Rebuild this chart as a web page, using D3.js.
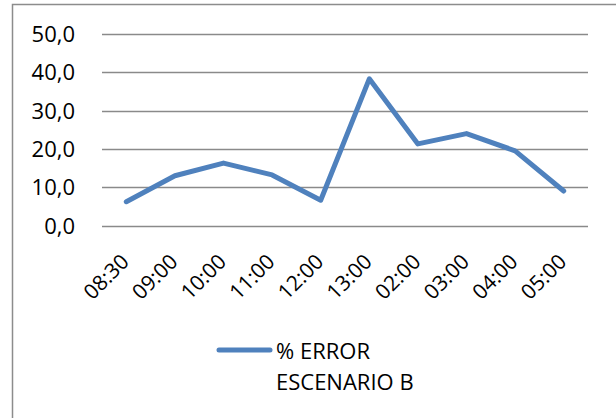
<!DOCTYPE html>
<html>
<head>
<meta charset="utf-8">
<script src="https://cdn.jsdelivr.net/npm/d3@7"></script>
<style>
  html, body { margin: 0; padding: 0; background: #fff; }
  svg { display: block; }
  text { font-family: "Open Sans", Lato, sans-serif; fill: #000; }
</style>
</head>
<body>
<script>
const categories = ["08:30", "09:00", "10:00", "11:00", "12:00", "13:00", "02:00", "03:00", "04:00", "05:00"];
const errorValues = [6.2, 13.0, 16.3, 13.2, 6.6, 38.3, 21.3, 24.0, 19.5, 9.0];
const yTicks = [0, 10, 20, 30, 40, 50];
const seriesName = ["% ERROR", "ESCENARIO B"];

const W = 616, H = 418;
const svg = d3.select("body").append("svg").attr("width", W).attr("height", H);

// outer frame
svg.append("rect")
  .attr("x", 12.5).attr("y", 4.5)
  .attr("width", 700).attr("height", 500)
  .attr("fill", "none").attr("stroke", "#8c8c8c").attr("stroke-width", 1.5);

const x = d3.scaleBand().domain(categories).range([102, 588]);
const y = d3.scaleLinear().domain([0, 50]).range([225.5, 34]);

// gridlines
svg.append("g").selectAll("line").data(yTicks).join("line")
  .attr("x1", 102).attr("x2", 588)
  .attr("y1", d => Math.round(y(d)) + 0.5).attr("y2", d => Math.round(y(d)) + 0.5)
  .attr("stroke", "#8a8a8a").attr("stroke-width", 1.3);

// y labels
const fmt = d => d3.format(".1f")(d).replace(".", ",");
svg.append("g").selectAll("text").data(yTicks).join("text")
  .attr("x", 75).attr("y", d => y(d) + 8)
  .attr("text-anchor", "end")
  .attr("font-size", 22)
  .text(fmt);

// x labels
svg.append("g").selectAll("text").data(categories).join("text")
  .attr("text-anchor", "end")
  .attr("font-size", 21)
  .attr("transform", d => `translate(${x(d) + x.bandwidth() / 2 + 4},${263}) rotate(-45)`)
  .text(d => d);

// line
const line = d3.line()
  .x((d, i) => x(categories[i]) + x.bandwidth() / 2)
  .y(d => y(d));
svg.append("path")
  .datum(errorValues)
  .attr("d", line)
  .attr("fill", "none")
  .attr("stroke", "#4f81bd")
  .attr("stroke-width", 5)
  .attr("stroke-linejoin", "round")
  .attr("stroke-linecap", "round");

// legend
svg.append("line")
  .attr("x1", 219).attr("x2", 270).attr("y1", 350).attr("y2", 350)
  .attr("stroke", "#4f81bd").attr("stroke-width", 5).attr("stroke-linecap", "round");
svg.append("g").selectAll("text").data(seriesName).join("text")
  .attr("x", 276).attr("y", (d, i) => 359 + i * 31)
  .attr("font-size", 22)
  .text(d => d);
</script>
</body>
</html>
